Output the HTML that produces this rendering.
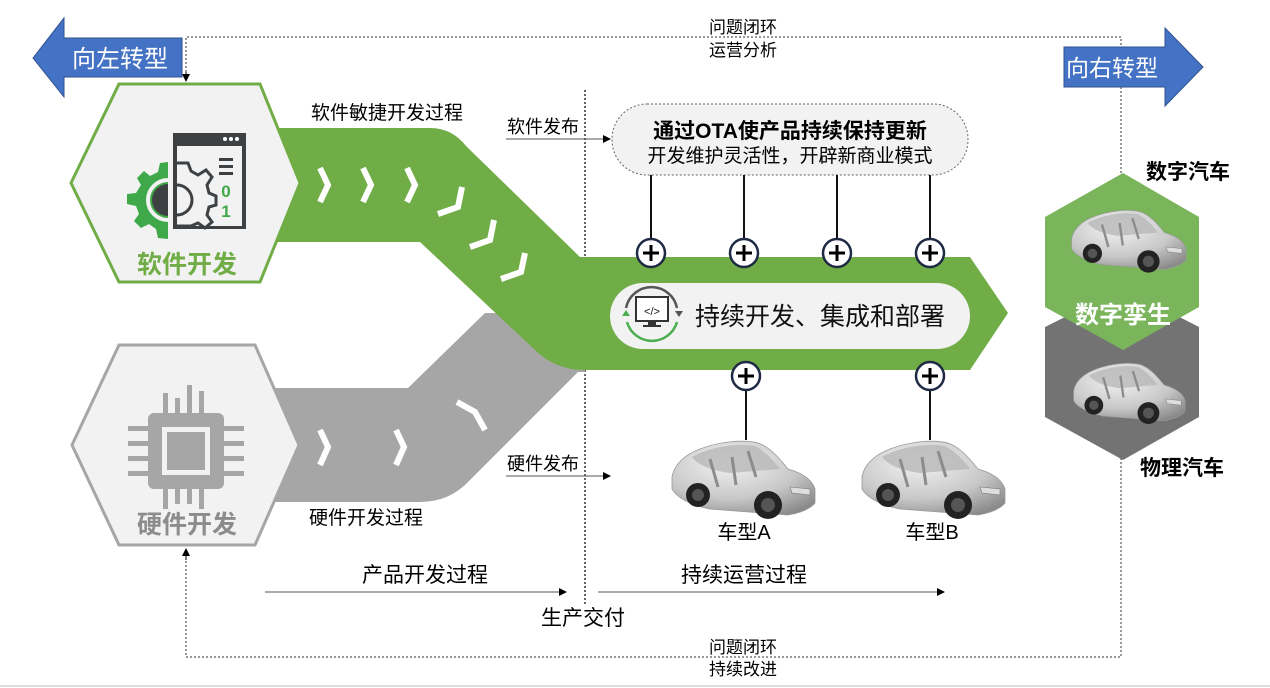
<!DOCTYPE html>
<html><head><meta charset="utf-8">
<style>
html,body{margin:0;padding:0;background:#fff;}
svg{display:block;font-family:"Liberation Sans","Noto Sans CJK SC",sans-serif;}
</style></head><body>
<svg width="1270" height="688" viewBox="0 0 1270 688" xmlns="http://www.w3.org/2000/svg">
<defs>
<marker id="ar" markerWidth="8" markerHeight="8" refX="7" refY="4" orient="auto" markerUnits="userSpaceOnUse"><path d="M0,0 L8,4 L0,8 z" fill="#000"/></marker>
<radialGradient id="cg" cx="0.4" cy="0.3" r="0.8"><stop offset="0" stop-color="#f2f2f2"/><stop offset="0.6" stop-color="#c8c8c8"/><stop offset="1" stop-color="#8a8a8a"/></radialGradient>
<g id="car">
  <path d="M2,40 C4,28 14,18 30,12 C48,5 72,2 88,6 C100,10 110,22 118,32 C132,36 142,42 145,52 L145,66 C140,72 130,76 118,78 L40,72 C20,68 6,60 2,52 Z" fill="url(#cg)" stroke="#999" stroke-width="0.8"/>
  <path d="M22,20 C40,10 65,6 85,9 C95,14 104,24 110,32 L60,36 C45,34 30,30 22,20 Z" fill="#b8b8b8" opacity="0.8"/>
  <path d="M40,22 L48,50 M62,20 L66,48 M78,14 L86,40" stroke="#8c8c8c" stroke-width="3" fill="none"/>
  <path d="M120,50 L140,52 L140,58 L122,56 Z" fill="#ddd" stroke="#777" stroke-width="0.6"/>
  <circle cx="28" cy="58" r="12" fill="#222"/><circle cx="28" cy="58" r="6" fill="#555"/>
  <circle cx="98" cy="68" r="14" fill="#222"/><circle cx="98" cy="68" r="7" fill="#555"/>
</g>
</defs>

<!-- dotted loops -->
<path d="M186,80 L186,37 L1121,37 L1121,175" fill="none" stroke="#333" stroke-width="1" stroke-dasharray="2,2"/>
<path d="M186,72 L186,81" stroke="#000" marker-end="url(#ar)"/>
<path d="M1121,458 L1121,657 L186,657 L186,552" fill="none" stroke="#333" stroke-width="1" stroke-dasharray="2,2"/>
<path d="M186,560 L186,549" stroke="#000" marker-end="url(#ar)"/>
<line x1="585" y1="90" x2="585" y2="605" stroke="#333" stroke-width="1.5" stroke-dasharray="2,2"/>
<line x1="0" y1="686" x2="1270" y2="686" stroke="#ddd" stroke-width="2"/>

<!-- left / right arrows -->
<polygon points="33,58 64,18 64,38 182,38 182,77 64,77 64,97" fill="#4472c4" stroke="#2f528f" stroke-width="1"/>
<text x="120" y="67" font-size="24" fill="#fff" text-anchor="middle">向左转型</text>
<polygon points="1064,47 1165,47 1165,28 1203,67 1165,106 1165,87 1064,87" fill="#4472c4" stroke="#2f528f" stroke-width="1"/>
<text x="1112" y="76" font-size="23" fill="#fff" text-anchor="middle">向右转型</text>

<!-- gray band -->
<path d="M270,388 L408,388 L485,313 L585,313 L585,372 L578,372 L470,480 Q450,502 420,502 L270,502 Z" fill="#a6a6a6"/>
<!-- green band -->
<path d="M270,128 L430,128 Q452,128 466,146 L580,257 L970,257 L1008,313 L970,370 L585,370 Q555,370 535,350 L420,242 L270,242 Z" fill="#70ad47"/>

<!-- chevrons -->
<g stroke="#fff" stroke-width="6" fill="none" stroke-linecap="butt">
  <path d="M320,168 L328,185 L320,202"/>
  <path d="M363,168 L371,185 L363,202"/>
  <path d="M407,168 L415,185 L407,202"/>
  <path d="M462,187 L458,207 L438,214"/>
  <path d="M494,220 L490,240 L470,247"/>
  <path d="M525,253 L521,272 L501,279"/>
  <path d="M320,430 L328,447 L320,465"/>
  <path d="M396,430 L404,447 L396,465"/>
  <path d="M457,402 L475,412 L485,430"/>
</g>

<!-- hexagons -->
<polygon points="71,183 119,84 260,84 300,183 260,282 119,282" fill="#f2f2f2" stroke="#70ad47" stroke-width="3"/>
<polygon points="72,445 119,345 255,345 299,445 255,545 119,545" fill="#f2f2f2" stroke="#a6a6a6" stroke-width="3"/>

<!-- software icon -->
<g>
  <path d="M168,162 L160,163 L158,172 L150,176 L144,171 L137,178 L141,185 L136,193 L127,194 L127,204 L136,206 L139,214 L134,221 L141,228 L149,224 L156,229 L158,238 L168,239 Z" fill="#3fa848"/>
  <circle cx="168" cy="200" r="20" fill="none" stroke="#f2f2f2" stroke-width="4"/>
  <path d="M168,184 A16,16 0 0 0 168,216 Z" fill="#3d4144"/>
  <rect x="173" y="133" width="73" height="96" fill="#3d4144"/>
  <rect x="177" y="146" width="65" height="80" fill="#f2f2f2"/>
  <circle cx="225" cy="139" r="2" fill="#fff"/><circle cx="231" cy="139" r="2" fill="#fff"/><circle cx="237" cy="139" r="2" fill="#fff"/>
  <path d="M177,163 L188,163 L191,171 L198,175 L206,170 L212,177 L207,185 L209,193 L216,196 L216,205 L209,207 L207,215 L212,222 L205,228 L198,223 L191,226 L188,226 L177,226" fill="none" stroke="#3d4144" stroke-width="3"/>
  <path d="M177,185 A15,15 0 0 1 177,215" fill="none" stroke="#3d4144" stroke-width="3"/>
  <rect x="219" y="158" width="14" height="3" fill="#3d4144"/><rect x="219" y="165" width="14" height="3" fill="#3d4144"/><rect x="219" y="172" width="14" height="3" fill="#3d4144"/>
  <text x="226" y="197" font-size="17" fill="#3fa848" text-anchor="middle" font-weight="bold">0</text>
  <text x="226" y="217" font-size="17" fill="#3fa848" text-anchor="middle" font-weight="bold">1</text>
</g>
<text x="187" y="273" font-size="25" font-weight="bold" fill="#70ad47" text-anchor="middle">软件开发</text>

<!-- chip icon -->
<g fill="#a6a6a6">
  <rect x="148" y="413" width="76" height="76" rx="6"/>
  <rect x="162" y="427" width="48" height="48" fill="#f2f2f2"/>
  <rect x="167" y="432" width="38" height="38"/>
  <rect x="163" y="393" width="5" height="20"/><rect x="175" y="398" width="5" height="15"/><rect x="187" y="385" width="5" height="28"/><rect x="199" y="391" width="5" height="22"/>
  <rect x="163" y="489" width="5" height="20"/><rect x="175" y="489" width="5" height="15"/><rect x="187" y="489" width="5" height="15"/><rect x="199" y="489" width="5" height="20"/>
  <rect x="128" y="426" width="20" height="5"/><rect x="128" y="441" width="20" height="5"/><rect x="128" y="456" width="20" height="5"/><rect x="128" y="471" width="20" height="5"/>
  <rect x="224" y="426" width="20" height="5"/><rect x="224" y="441" width="20" height="5"/><rect x="224" y="456" width="20" height="5"/><rect x="224" y="471" width="20" height="5"/>
</g>
<text x="187" y="533" font-size="25" font-weight="bold" fill="#8c8c8c" text-anchor="middle">硬件开发</text>

<!-- labels -->
<text x="387" y="119" font-size="19" text-anchor="middle">软件敏捷开发过程</text>
<text x="366" y="524" font-size="19" text-anchor="middle">硬件开发过程</text>
<text x="543" y="133" font-size="18" text-anchor="middle">软件发布</text>
<line x1="506" y1="139" x2="610" y2="139" stroke="#555" stroke-width="1" marker-end="url(#ar)"/>
<text x="543" y="470" font-size="18" text-anchor="middle">硬件发布</text>
<line x1="506" y1="476" x2="610" y2="476" stroke="#555" stroke-width="1" marker-end="url(#ar)"/>

<text x="425" y="582" font-size="21" text-anchor="middle">产品开发过程</text>
<line x1="265" y1="592" x2="566" y2="592" stroke="#555" stroke-width="1" marker-end="url(#ar)"/>
<text x="744" y="582" font-size="21" text-anchor="middle">持续运营过程</text>
<line x1="598" y1="592" x2="944" y2="592" stroke="#555" stroke-width="1" marker-end="url(#ar)"/>
<text x="583" y="625" font-size="21" text-anchor="middle">生产交付</text>
<text x="743" y="33" font-size="17" text-anchor="middle">问题闭环</text>
<text x="743" y="56" font-size="17" text-anchor="middle">运营分析</text>
<text x="743" y="653" font-size="17" text-anchor="middle">问题闭环</text>
<text x="743" y="675" font-size="17" text-anchor="middle">持续改进</text>

<!-- OTA box -->
<rect x="612" y="104" width="356" height="71" rx="35" fill="#f2f2f2" stroke="#666" stroke-width="1" stroke-dasharray="2,2"/>
<text x="790" y="138" font-size="21" font-weight="bold" text-anchor="middle">通过OTA使产品持续保持更新</text>
<text x="790" y="162" font-size="19" text-anchor="middle">开发维护灵活性，开辟新商业模式</text>

<!-- connectors -->
<g stroke="#111" stroke-width="2">
  <line x1="651" y1="175" x2="651" y2="240"/><line x1="744" y1="175" x2="744" y2="240"/>
  <line x1="837" y1="175" x2="837" y2="240"/><line x1="930" y1="175" x2="930" y2="240"/>
  <line x1="746" y1="388" x2="746" y2="440"/><line x1="930" y1="388" x2="930" y2="440"/>
</g>
<g fill="#fff" stroke="#1f2a44" stroke-width="2.5">
  <circle cx="651" cy="253" r="14"/><circle cx="744" cy="253" r="14"/><circle cx="837" cy="253" r="14"/><circle cx="930" cy="253" r="14"/>
  <circle cx="746" cy="376" r="14"/><circle cx="930" cy="376" r="14"/>
</g>
<g stroke="#000" stroke-width="3">
  <path d="M643,253 H659 M651,245 V261"/><path d="M736,253 H752 M744,245 V261"/>
  <path d="M829,253 H845 M837,245 V261"/><path d="M922,253 H938 M930,245 V261"/>
  <path d="M738,376 H754 M746,368 V384"/><path d="M922,376 H938 M930,368 V384"/>
</g>

<!-- main pill -->
<rect x="610" y="283" width="360" height="66" rx="33" fill="#f2f2f2"/>
<g>
  <path d="M626,308 A26,26 0 0 1 677,308" fill="none" stroke="#555" stroke-width="2.5"/>
  <path d="M627,322 A26,26 0 0 0 677,322" fill="none" stroke="#4caf50" stroke-width="2.5"/>
  <polygon points="622,316 626,310 630,316" fill="#4caf50"/>
  <polygon points="675,311 683,311 679,317" fill="#555"/>
  <rect x="636" y="297" width="32" height="24" fill="#fff" stroke="#333" stroke-width="2"/>
  <rect x="648" y="321" width="8" height="4" fill="#333"/><rect x="643" y="325" width="18" height="2" fill="#333"/>
  <text x="652" y="315" font-size="11" text-anchor="middle" fill="#111">&lt;/&gt;</text>
</g>
<text x="695" y="325" font-size="25" fill="#111">持续开发、集成和部署</text>

<!-- cars -->
<use href="#car" transform="translate(670,437)"/>
<use href="#car" transform="translate(860,437)"/>
<text x="744" y="539" font-size="20" text-anchor="middle">车型A</text>
<text x="932" y="539" font-size="20" text-anchor="middle">车型B</text>

<!-- right hexagons -->
<polygon points="1123,288 1199,327 1199,417 1123,460 1045,417 1045,327" fill="#737373"/>
<polygon points="1123,173 1199,217 1199,307 1123,350 1045,307 1045,217" fill="#7ab55c"/>
<use href="#car" transform="translate(1070,207) scale(0.8)"/>
<use href="#car" transform="translate(1072,360) scale(0.78)"/>
<text x="1123" y="323" font-size="24" font-weight="bold" fill="#fff" text-anchor="middle">数字孪生</text>
<text x="1188" y="179" font-size="21" font-weight="bold" text-anchor="middle">数字汽车</text>
<text x="1182" y="475" font-size="21" font-weight="bold" text-anchor="middle">物理汽车</text>
</svg>
</body></html>
